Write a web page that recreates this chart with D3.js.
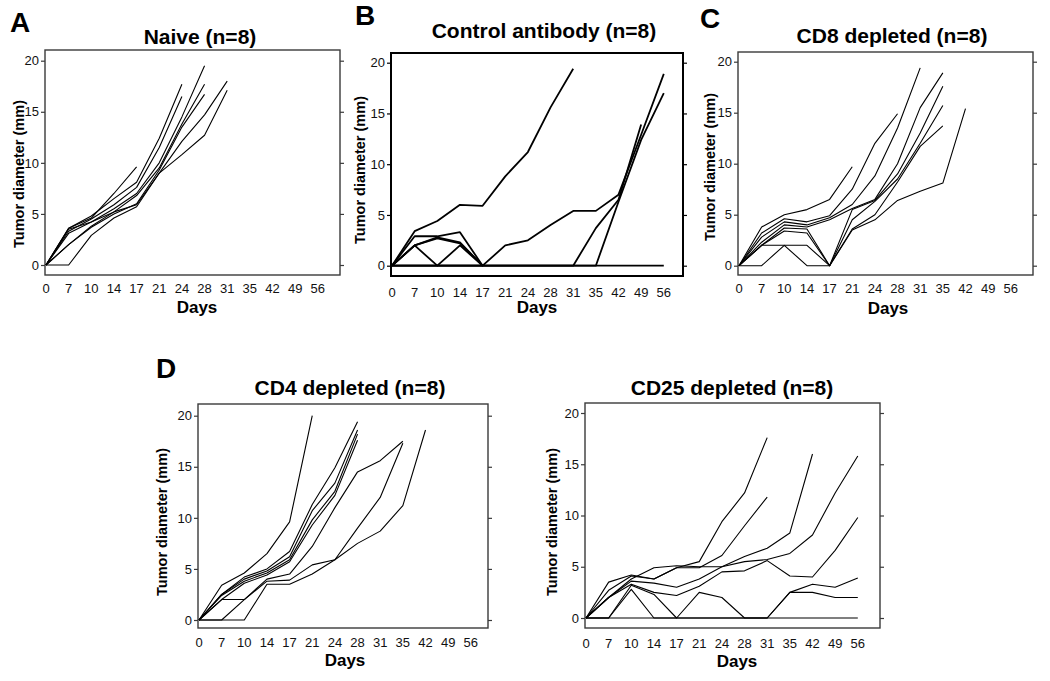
<!DOCTYPE html>
<html>
<head>
<meta charset="utf-8">
<script src="https://cdn.jsdelivr.net/npm/d3@7"></script>
<style>
  body { margin: 0; background: #fff; }
  svg { display: block; font-family: Arial, 'Liberation Sans', sans-serif; }
</style>
</head>
<body>
<svg id="chart" width="1050" height="681"></svg>
<script>
// day categories on the x axis (categorical, evenly spaced)
const days = ['0', '7', '10', '14', '17', '21', '24', '28', '31', '35', '42', '49', '56'];
const yTicks = [0, 5, 10, 15, 20];

// each series starts at day 0; its length says how far the mouse was followed
const naive = [
  [0, 3.6, 4.6, 7.0, 9.6],
  [0, 3.6, 4.8, 6.5, 8.1, 12.4, 17.7],
  [0, 3.3, 4.5, 5.9, 7.6, 11.5, 16.5],
  [0, 3.1, 4.2, 5.5, 7.0, 10.0, 14.5, 19.5],
  [0, 2.0, 3.8, 5.2, 6.8, 9.5, 13.8, 17.7],
  [0, 2.0, 3.7, 5.0, 6.0, 9.3, 13.5, 16.7],
  [0, 3.5, 4.2, 5.2, 5.9, 9.0, 12.1, 14.7, 18.0],
  [0, 0, 2.9, 4.6, 5.7, 9.0, 10.8, 12.7, 17.1]
];

const controlAb = [
  [0, 3.4, 4.4, 6.0, 5.9, 8.8, 11.2, 15.6, 19.4],
  [0, 2.9, 2.9, 3.3, 0, 2.0, 2.5, 4.0, 5.4, 5.4, 7.0, 12.9, 18.9],
  [0, 2.0, 2.8, 2.3, 0],
  [0, 2.0, 2.7, 2.2, 0],
  [0, 2.0, 0, 2.0, 0],
  [0, 0, 0, 0, 0, 0, 0, 0, 0, 3.7, 6.5, 13.9],
  [0, 0, 0, 0, 0, 0, 0, 0, 0, 0, 6.3, 12.4, 17.0],
  [0, 0, 0, 0, 0, 0, 0, 0, 0, 0, 0, 0, 0]
];

const cd8Depleted = [
  [0, 3.8, 5.0, 5.5, 6.5, 9.7],
  [0, 3.2, 4.6, 4.3, 4.9, 7.5, 12.0, 14.9],
  [0, 2.8, 4.3, 4.0, 4.7, 6.0, 8.8, 13.5, 19.4],
  [0, 2.3, 4.0, 3.8, 4.5, 5.6, 6.5, 10.0, 15.5, 18.9],
  [0, 2.0, 3.7, 3.6, 0, 5.5, 6.4, 9.0, 13.0, 17.6],
  [0, 2.0, 3.4, 3.2, 0, 4.5, 6.3, 8.5, 12.0, 15.7],
  [0, 2.0, 2.0, 2.0, 0, 3.6, 5.0, 8.2, 11.7, 13.7],
  [0, 0, 2.0, 0, 0, 3.5, 4.5, 6.4, 7.3, 8.1, 15.4]
];

const cd4Depleted = [
  [0, 3.4, 4.6, 6.5, 9.6, 20.0],
  [0, 2.5, 4.2, 5.0, 6.7, 11.3, 14.9, 19.4],
  [0, 2.5, 4.0, 4.8, 6.2, 10.7, 13.4, 18.6],
  [0, 2.4, 3.8, 4.6, 5.9, 9.8, 12.6, 18.2],
  [0, 2.0, 3.6, 4.4, 5.7, 9.3, 12.2, 17.6],
  [0, 2.0, 2.0, 4.0, 4.5, 7.2, 11.0, 14.5, 15.6, 17.5],
  [0, 0, 2.0, 3.8, 3.9, 5.4, 5.9, 9.0, 12.0, 17.3],
  [0, 0, 0, 3.5, 3.5, 4.5, 5.9, 7.5, 8.7, 11.2, 18.6]
];

const cd25Depleted = [
  [0, 3.5, 4.2, 3.8, 4.9, 5.5, 9.4, 12.2, 17.6],
  [0, 2.7, 4.1, 3.8, 4.9, 4.9, 6.1, 9.0, 11.8],
  [0, 2.0, 3.8, 4.9, 5.1, 5.0, 5.0, 6.0, 6.8, 8.3, 16.0],
  [0, 2.0, 3.6, 3.4, 3.0, 3.8, 5.0, 5.5, 5.7, 6.3, 8.1, 12.2, 15.8],
  [0, 2.0, 3.3, 2.5, 2.2, 3.1, 4.5, 4.6, 5.6, 4.1, 4.0, 6.6, 9.8],
  [0, 0, 3.2, 2.3, 0, 2.5, 2.0, 0, 0, 2.5, 3.3, 3.0, 3.9],
  [0, 0, 2.8, 0, 0, 0, 0, 0, 0, 2.5, 2.5, 2.0, 2.0],
  [0, 0, 0, 0, 0, 0, 0, 0, 0, 0, 0, 0, 0]
];

const panels = [
  { title: 'Naive (n=8)', letter: 'A', data: naive,
    left: 45, top: 50, width: 295, height: 225, y0: 265, y20: 60.7,
    titleX: 200, titleY: 44, letterX: 10, letterY: 32, yLabelX: 24, yLabelY: 174,
    tickY: 293, daysX: 197, daysY: 313, bold: false },
  { title: 'Control antibody (n=8)', letter: 'B', data: controlAb,
    left: 391, top: 53, width: 292, height: 223, y0: 265.7, y20: 62.7,
    titleX: 544, titleY: 38, letterX: 355, letterY: 25, yLabelX: 365, yLabelY: 170,
    tickY: 297, daysX: 537, daysY: 313, bold: true },
  { title: 'CD8 depleted (n=8)', letter: 'C', data: cd8Depleted,
    left: 738, top: 52, width: 295, height: 223, y0: 265.7, y20: 61.7,
    titleX: 892, titleY: 43, letterX: 700, letterY: 28, yLabelX: 715, yLabelY: 167,
    tickY: 293, daysX: 888, daysY: 314, bold: false },
  { title: 'CD4 depleted (n=8)', letter: 'D', data: cd4Depleted,
    left: 198, top: 404, width: 290, height: 224, y0: 620, y20: 415.7,
    titleX: 350, titleY: 395, letterX: 156, letterY: 378, yLabelX: 167, yLabelY: 522,
    tickY: 647, daysX: 345, daysY: 666, bold: false },
  { title: 'CD25 depleted (n=8)', letter: '', data: cd25Depleted,
    left: 585, top: 403, width: 295, height: 225, y0: 618, y20: 413,
    titleX: 732, titleY: 395, letterX: 0, letterY: 0, yLabelX: 557, yLabelY: 522,
    tickY: 648, daysX: 737, daysY: 667, bold: false }
];

const svg = d3.select('#chart');

function drawPanel(p) {
  const g = svg.append('g');
  const frameColor = p.bold ? '#000' : '#3a3a3a';
  const frameWidth = p.bold ? 2 : 1.4;
  const lineWidth = p.bold ? 1.8 : 1.1;

  const x = d3
    .scalePoint()
    .domain(days)
    .range([p.left + 1, p.left + 1 + 12 * 22.65]);

  const y = d3.scaleLinear().domain([0, 20]).range([p.y0, p.y20]);

  // frame
  g.append('rect')
    .attr('x', p.left)
    .attr('y', p.top)
    .attr('width', p.width)
    .attr('height', p.height)
    .attr('fill', 'none')
    .attr('stroke', frameColor)
    .attr('stroke-width', frameWidth);

  // left y axis (ticks outward, no domain)
  g.append('g')
    .attr('transform', `translate(${p.left},0)`)
    .call(d3.axisLeft(y).tickValues(yTicks).tickSize(4).tickPadding(2))
    .call((g) => g.select('.domain').remove())
    .call((g) => g.selectAll('.tick line').attr('stroke', frameColor).attr('stroke-width', 1.2))
    .call((g) =>
      g.selectAll('.tick text')
        .attr('fill', '#111')
        .style('font-size', '13px')
        .style('font-family', 'Arial, "Liberation Sans", sans-serif')
    );

  // right side ticks, no labels
  g.append('g')
    .attr('transform', `translate(${p.left + p.width},0)`)
    .call(d3.axisRight(y).tickValues(yTicks).tickSize(4).tickFormat(''))
    .call((g) => g.select('.domain').remove())
    .call((g) => g.selectAll('.tick line').attr('stroke', frameColor).attr('stroke-width', 1.2));

  // x labels only, SPSS style
  g.append('g')
    .selectAll('text')
    .data(days)
    .join('text')
    .attr('x', (d) => x(d))
    .attr('y', p.tickY)
    .attr('text-anchor', 'middle')
    .attr('fill', '#111')
    .style('font-size', '13px')
    .text((d) => d);

  const line = d3
    .line()
    .x((d, i) => x(days[i]))
    .y((d) => y(d));

  g.append('g')
    .selectAll('path')
    .data(p.data)
    .join('path')
    .attr('d', line)
    .attr('fill', 'none')
    .attr('stroke', '#000')
    .attr('stroke-width', lineWidth)
    .attr('stroke-linejoin', 'round');

  // titles and labels
  g.append('text')
    .attr('x', p.titleX)
    .attr('y', p.titleY)
    .attr('text-anchor', 'middle')
    .style('font-size', '21px')
    .style('font-weight', 'bold')
    .text(p.title);

  if (p.letter)
    g.append('text')
      .attr('x', p.letterX)
      .attr('y', p.letterY)
      .style('font-size', '28px')
      .style('font-weight', 'bold')
      .text(p.letter);

  g.append('text')
    .attr('transform', `translate(${p.yLabelX},${p.yLabelY}) rotate(-90)`)
    .attr('text-anchor', 'middle')
    .style('font-size', '14.5px')
    .style('font-weight', 'bold')
    .text('Tumor diameter (mm)');

  g.append('text')
    .attr('x', p.daysX)
    .attr('y', p.daysY)
    .attr('text-anchor', 'middle')
    .style('font-size', '17px')
    .style('font-weight', 'bold')
    .text('Days');
}

panels.forEach(drawPanel);
</script>
</body>
</html>
